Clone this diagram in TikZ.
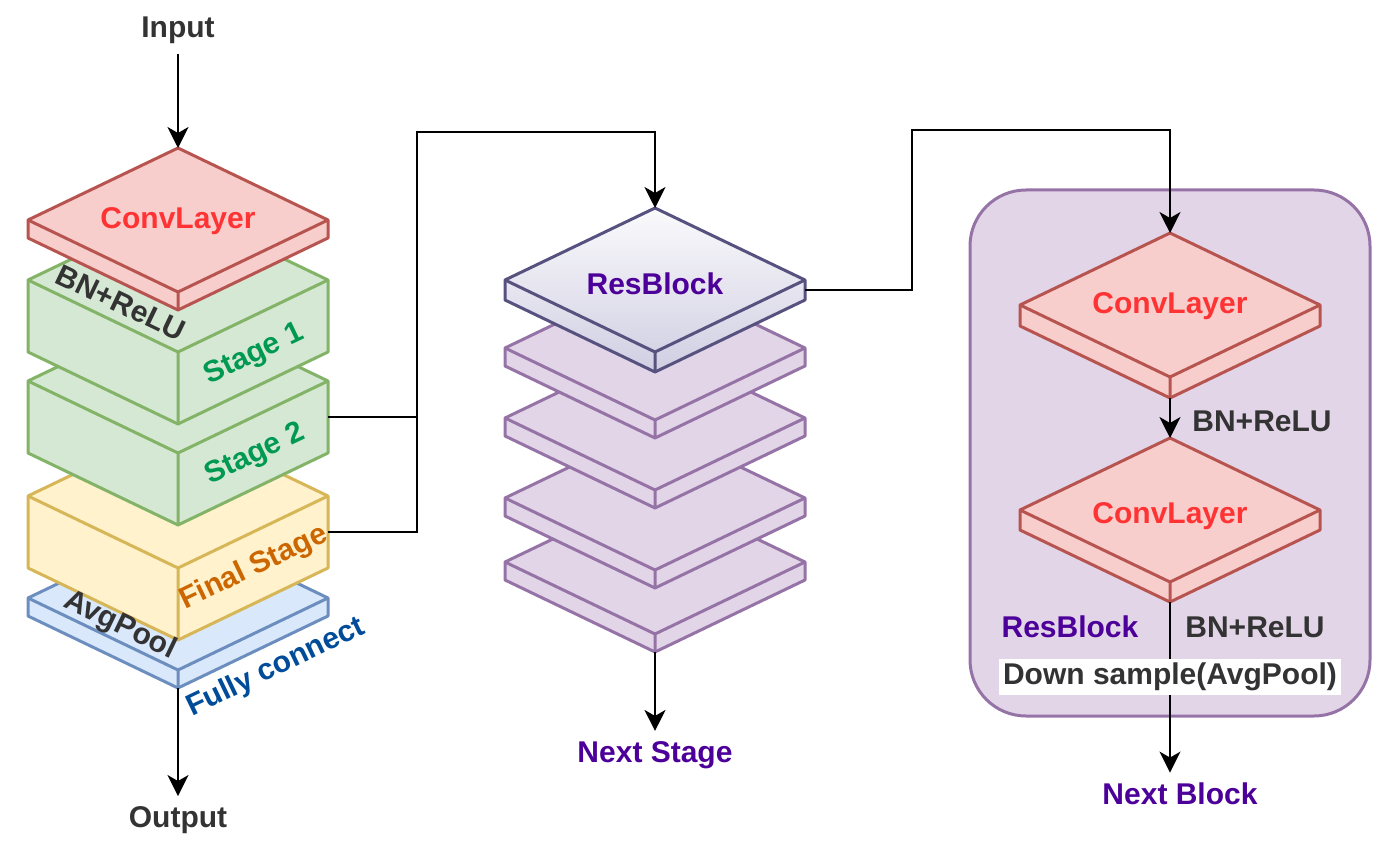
\documentclass[tikz,border=0pt]{standalone}
\usepackage{fontspec}
\setmainfont{Liberation Sans}
\usepackage{tikz}
\usetikzlibrary{arrows.meta, positioning, calc}
\usepackage{xcolor}

\definecolor{convfill}{HTML}{F8CECC}
\definecolor{convline}{HTML}{B85450}
\definecolor{convtext}{HTML}{FF3333}
\definecolor{stagefill}{HTML}{D5E8D4}
\definecolor{stageline}{HTML}{82B366}
\definecolor{stagetext}{HTML}{009951}
\definecolor{finalfill}{HTML}{FFF2CC}
\definecolor{finalline}{HTML}{D6B656}
\definecolor{finaltext}{HTML}{CC6600}
\definecolor{poolfill}{HTML}{DAE8FC}
\definecolor{poolline}{HTML}{6C8EBF}
\definecolor{pooltext}{HTML}{004C99}
\definecolor{blockfill}{HTML}{E1D5E7}
\definecolor{blockline}{HTML}{9673A6}
\definecolor{resline}{HTML}{56517E}
\definecolor{restop}{HTML}{FAFAFC}
\definecolor{resbot}{HTML}{D0CEE2}
\definecolor{darktext}{HTML}{333333}
\definecolor{violettext}{HTML}{4C0099}

% slab: name, x, y of the back corner, thickness, face options, edge colour
\newcommand{\slab}[6]{%
  \path[#5, draw=#6, line width=1.5pt, line join=round]
    (#2,#3) coordinate (#1-t) -- ++(150,72) coordinate (#1-r)
    -- ++(0,#4) coordinate (#1-rb) -- ++(-150,72) coordinate (#1-fb)
    -- ++(-150,-72) coordinate (#1-lb) -- ++(0,-#4) coordinate (#1-l) -- cycle;
  \draw[#6, line width=1.5pt, line join=round]
    (#1-l) -- ++(150,72) coordinate (#1-f) -- (#1-r) (#1-f) -- (#1-fb);
}

\tikzset{
  lbl/.style={font=\bfseries\fontsize{15}{18}\selectfont, text=darktext, inner sep=1pt},
  term/.style={lbl, inner sep=5pt},
  arr/.style={-{Stealth[length=10.5pt, width=10.5pt, inset=3pt]}, line width=1pt},
  link/.style={line width=1pt}
}

\begin{document}
\begin{tikzpicture}[x=0.5pt, y=-0.5pt]
  \useasboundingbox (0,0) rectangle (1397,850);

  % Left stack
  \slab{pool}{178}{526}{18}{fill=poolfill}{poolline}
  \slab{fin}{178}{424}{72}{fill=finalfill}{finalline}
  \slab{st2}{178}{309}{72}{fill=stagefill}{stageline}
  \slab{st1}{178}{208}{72}{fill=stagefill}{stageline}
  \slab{conv}{178}{148}{18}{fill=convfill}{convline}

  \node[lbl, text=convtext] (convlbl) at (178,221) {ConvLayer};
  \node[lbl, rotate=-25.6] (bnlbl) at (121,303) {BN+ReLU};
  \node[lbl, text=stagetext, rotate=25.6] (st1lbl) at (254,355) {Stage 1};
  \node[lbl, text=stagetext, rotate=25.6] (st2lbl) at (255,455) {Stage 2};
  \node[lbl, text=finaltext, rotate=25.6] (finlbl) at (254,568) {Final Stage};
  \node[lbl, rotate=-25.6] (poollbl) at (120,626) {AvgPool};
  \node[lbl, text=pooltext, rotate=25.6] (fclbl) at (276,668) {Fully connect};

  \node[term] (input) at (178,30) {Input};
  \node[term] (output) at (178,820) {Output};
  \draw[arr] (input) -- (conv-t);
  \draw[arr] (pool-fb) -- (output);

  % Middle stack
  \slab{s5}{655}{490}{18}{fill=blockfill}{blockline}
  \slab{s4}{655}{426}{18}{fill=blockfill}{blockline}
  \slab{s3}{655}{346}{18}{fill=blockfill}{blockline}
  \slab{s2}{655}{276}{18}{fill=blockfill}{blockline}
  \slab{res}{655}{208}{20}{top color=restop, bottom color=resbot}{resline}
  \node[lbl, text=violettext] (reslbl) at (655,284) {ResBlock};

  \node[term, text=violettext] (nextstage) at (655,755) {Next Stage};
  \draw[arr] (s5-fb) -- (nextstage);

  % Stages into the ResBlock
  \coordinate (jn) at (417,132);
  \draw[link] ($(st2-r)!0.5!(st2-rb)$) coordinate (st2-e) -- (st2-e -| jn);
  \draw[arr] ($(fin-r)!0.5!(fin-rb)$) coordinate (fin-e) -- (fin-e -| jn) -- (jn) -| (res-t);

  % Right block
  \draw[blockline, fill=blockfill, line width=1.5pt, rounded corners=28pt]
    (970,190) rectangle (1370,716);
  \slab{c2}{1170}{438}{20}{fill=convfill}{convline}
  \slab{c1}{1170}{233}{21}{fill=convfill}{convline}
  \node[lbl, text=convtext] (c1lbl) at (1170,306) {ConvLayer};
  \node[lbl, text=convtext] (c2lbl) at (1170,516) {ConvLayer};

  \coordinate (jn2) at (912,130);
  \draw[arr] ($(res-r)!0.5!(res-rb)$) coordinate (res-e) -- (res-e -| jn2) -- (jn2) -| (c1-t);
  \draw[arr] (c1-fb) -- (c2-t);
  \node[lbl] (bn1) at (1262,421) {BN+ReLU};

  \node[term, text=violettext] (nextblk) at (1180,794) {Next Block};
  \draw[arr] (c2-fb) -- (c2-fb |- nextblk.north);
  \node[lbl, text=violettext] (blklbl) at (1070,627) {ResBlock};
  \node[lbl] (bn2) at (1255,627) {BN+ReLU};
  \node[lbl, fill=white, inner sep=2pt] (down) at (1170,677) {Down sample(AvgPool)};
\end{tikzpicture}
\end{document}
